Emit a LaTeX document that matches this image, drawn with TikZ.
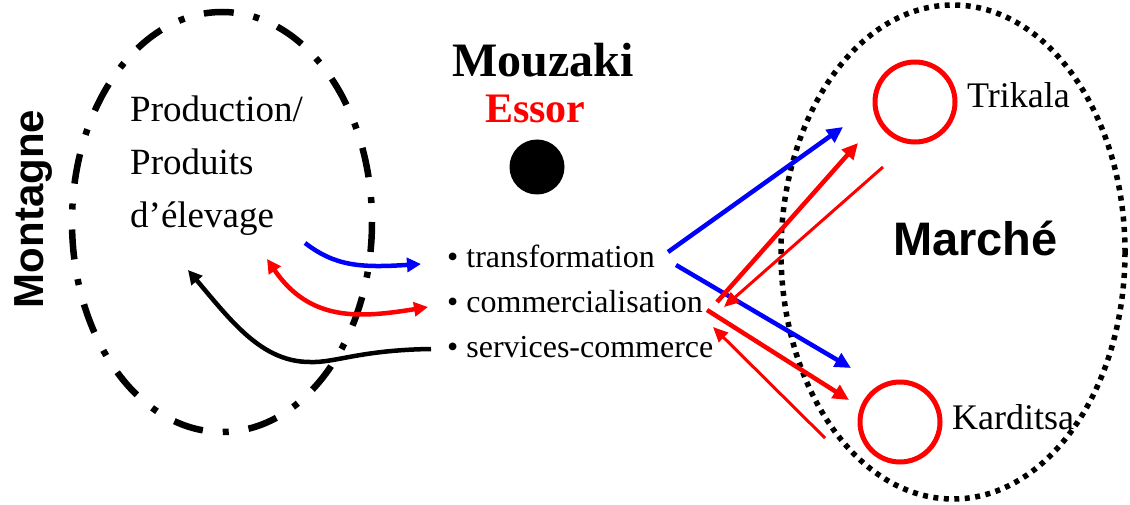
\documentclass[tikz,border=0pt]{standalone}
\usepackage{fontspec}
\setmainfont{Liberation Serif}
\newfontfamily\arialf{Liberation Sans}
\usetikzlibrary{arrows.meta}
\begin{document}
\begin{tikzpicture}[x=1pt,y=-1pt,
  txt/.style={inner sep=0pt,anchor=base west,font=\fontsize{37}{44}\selectfont},
  itm/.style={inner sep=0pt,anchor=base west,font=\fontsize{32}{38}\selectfont},
  thick arr/.style={line width=4.5pt,-{Triangle[length=16pt,width=15pt]}},
  thin arr/.style={line width=3pt,-{Triangle[length=15pt,width=13pt]}},
  curve arr/.style={line width=4.5pt,-{Triangle[length=14pt,width=14pt]}},
  town/.style={draw=red,line width=5pt,circle,minimum size=80pt,inner sep=0pt}]
\useasboundingbox (0,0) rectangle (1130,505);
% regions
\draw[line width=6.5pt,dash pattern=on 30pt off 20pt on 6pt off 20pt] (222,222) ellipse [x radius=150, y radius=210];
\draw[line width=5.5pt,dash pattern=on 5pt off 5.5pt] (953,252) ellipse [x radius=172, y radius=247];
% labels
\node[inner sep=0pt,anchor=base,rotate=90,font=\arialf\bfseries\fontsize{42}{48}\selectfont] (mont) at (43,209) {Montagne};
\node[txt] (prod1) at (130,122) {Production/};
\node[txt] (prod2) at (130,175) {Produits};
\node[txt] (prod3) at (130,228) {d’élevage};
\node[inner sep=0pt,anchor=base west,font=\bfseries\fontsize{48}{54}\selectfont] (mouz) at (452,77) {Mouzaki};
\node[inner sep=0pt,anchor=base west,text=red,font=\bfseries\fontsize{42}{48}\selectfont] (essor) at (485,123) {Essor};
\node[fill=black,circle,minimum size=55pt,inner sep=0pt] (dot) at (537,167) {};
\node[itm] (tf) at (447,268) {• transformation};
\node[itm] (com) at (447,312) {• commercialisation};
\node[itm] (serv) at (447,357) {• services-commerce};
\node[inner sep=0pt,anchor=base west,font=\arialf\bfseries\fontsize{47}{54}\selectfont] (marche) at (893,255) {Marché};
\node[town] (tc) at (915,102) {};
\node[town] (kc) at (900,422) {};
\node[txt,font=\fontsize{36}{42}\selectfont] (trik) at (967,108) {Trikala};
\node[txt,font=\fontsize{36}{42}\selectfont] (kard) at (952,429) {Karditsa};
% endpoints
\coordinate (b1s) at (668,252); \coordinate (b1e) at (843,127);
\coordinate (b2s) at (676,265); \coordinate (b2e) at (851,368);
\coordinate (r1s) at (717,302); \coordinate (r1e) at (858,143);
\coordinate (t1s) at (883,167); \coordinate (t1e) at (724,307);
\coordinate (r2s) at (707,310); \coordinate (r2e) at (849,400);
\coordinate (t2s) at (825,438); \coordinate (t2e) at (713,327);
\coordinate (lb1) at (305,243); \coordinate (lb2) at (421,264);
\coordinate (lr1) at (267,259); \coordinate (lr2) at (428,307);
\coordinate (lk1) at (431,349); \coordinate (lk2) at (188,270);
% right arrows
\draw[thick arr,blue] (b1s) -- (b1e);
\draw[thick arr,blue] (b2s) -- (b2e);
\draw[thick arr,red] (r1s) -- (r1e);
\draw[thin arr,red] (t1s) -- (t1e);
\draw[thick arr,red] (r2s) -- (r2e);
\draw[thin arr,red] (t2s) -- (t2e);
% left curved arrows
\draw[curve arr,blue] (lb1) .. controls (335,266) and (360,268) .. (lb2);
\draw[curve arr,red,{Triangle[length=14pt,width=14pt]}-{Triangle[length=14pt,width=14pt]}] (lr1) .. controls (310,322) and (360,318) .. (lr2);
\draw[curve arr,black] (lk1) .. controls (360,350) and (335,363) .. (310,362) .. controls (262,362) and (232,322) .. (lk2);
\end{tikzpicture}
\end{document}
